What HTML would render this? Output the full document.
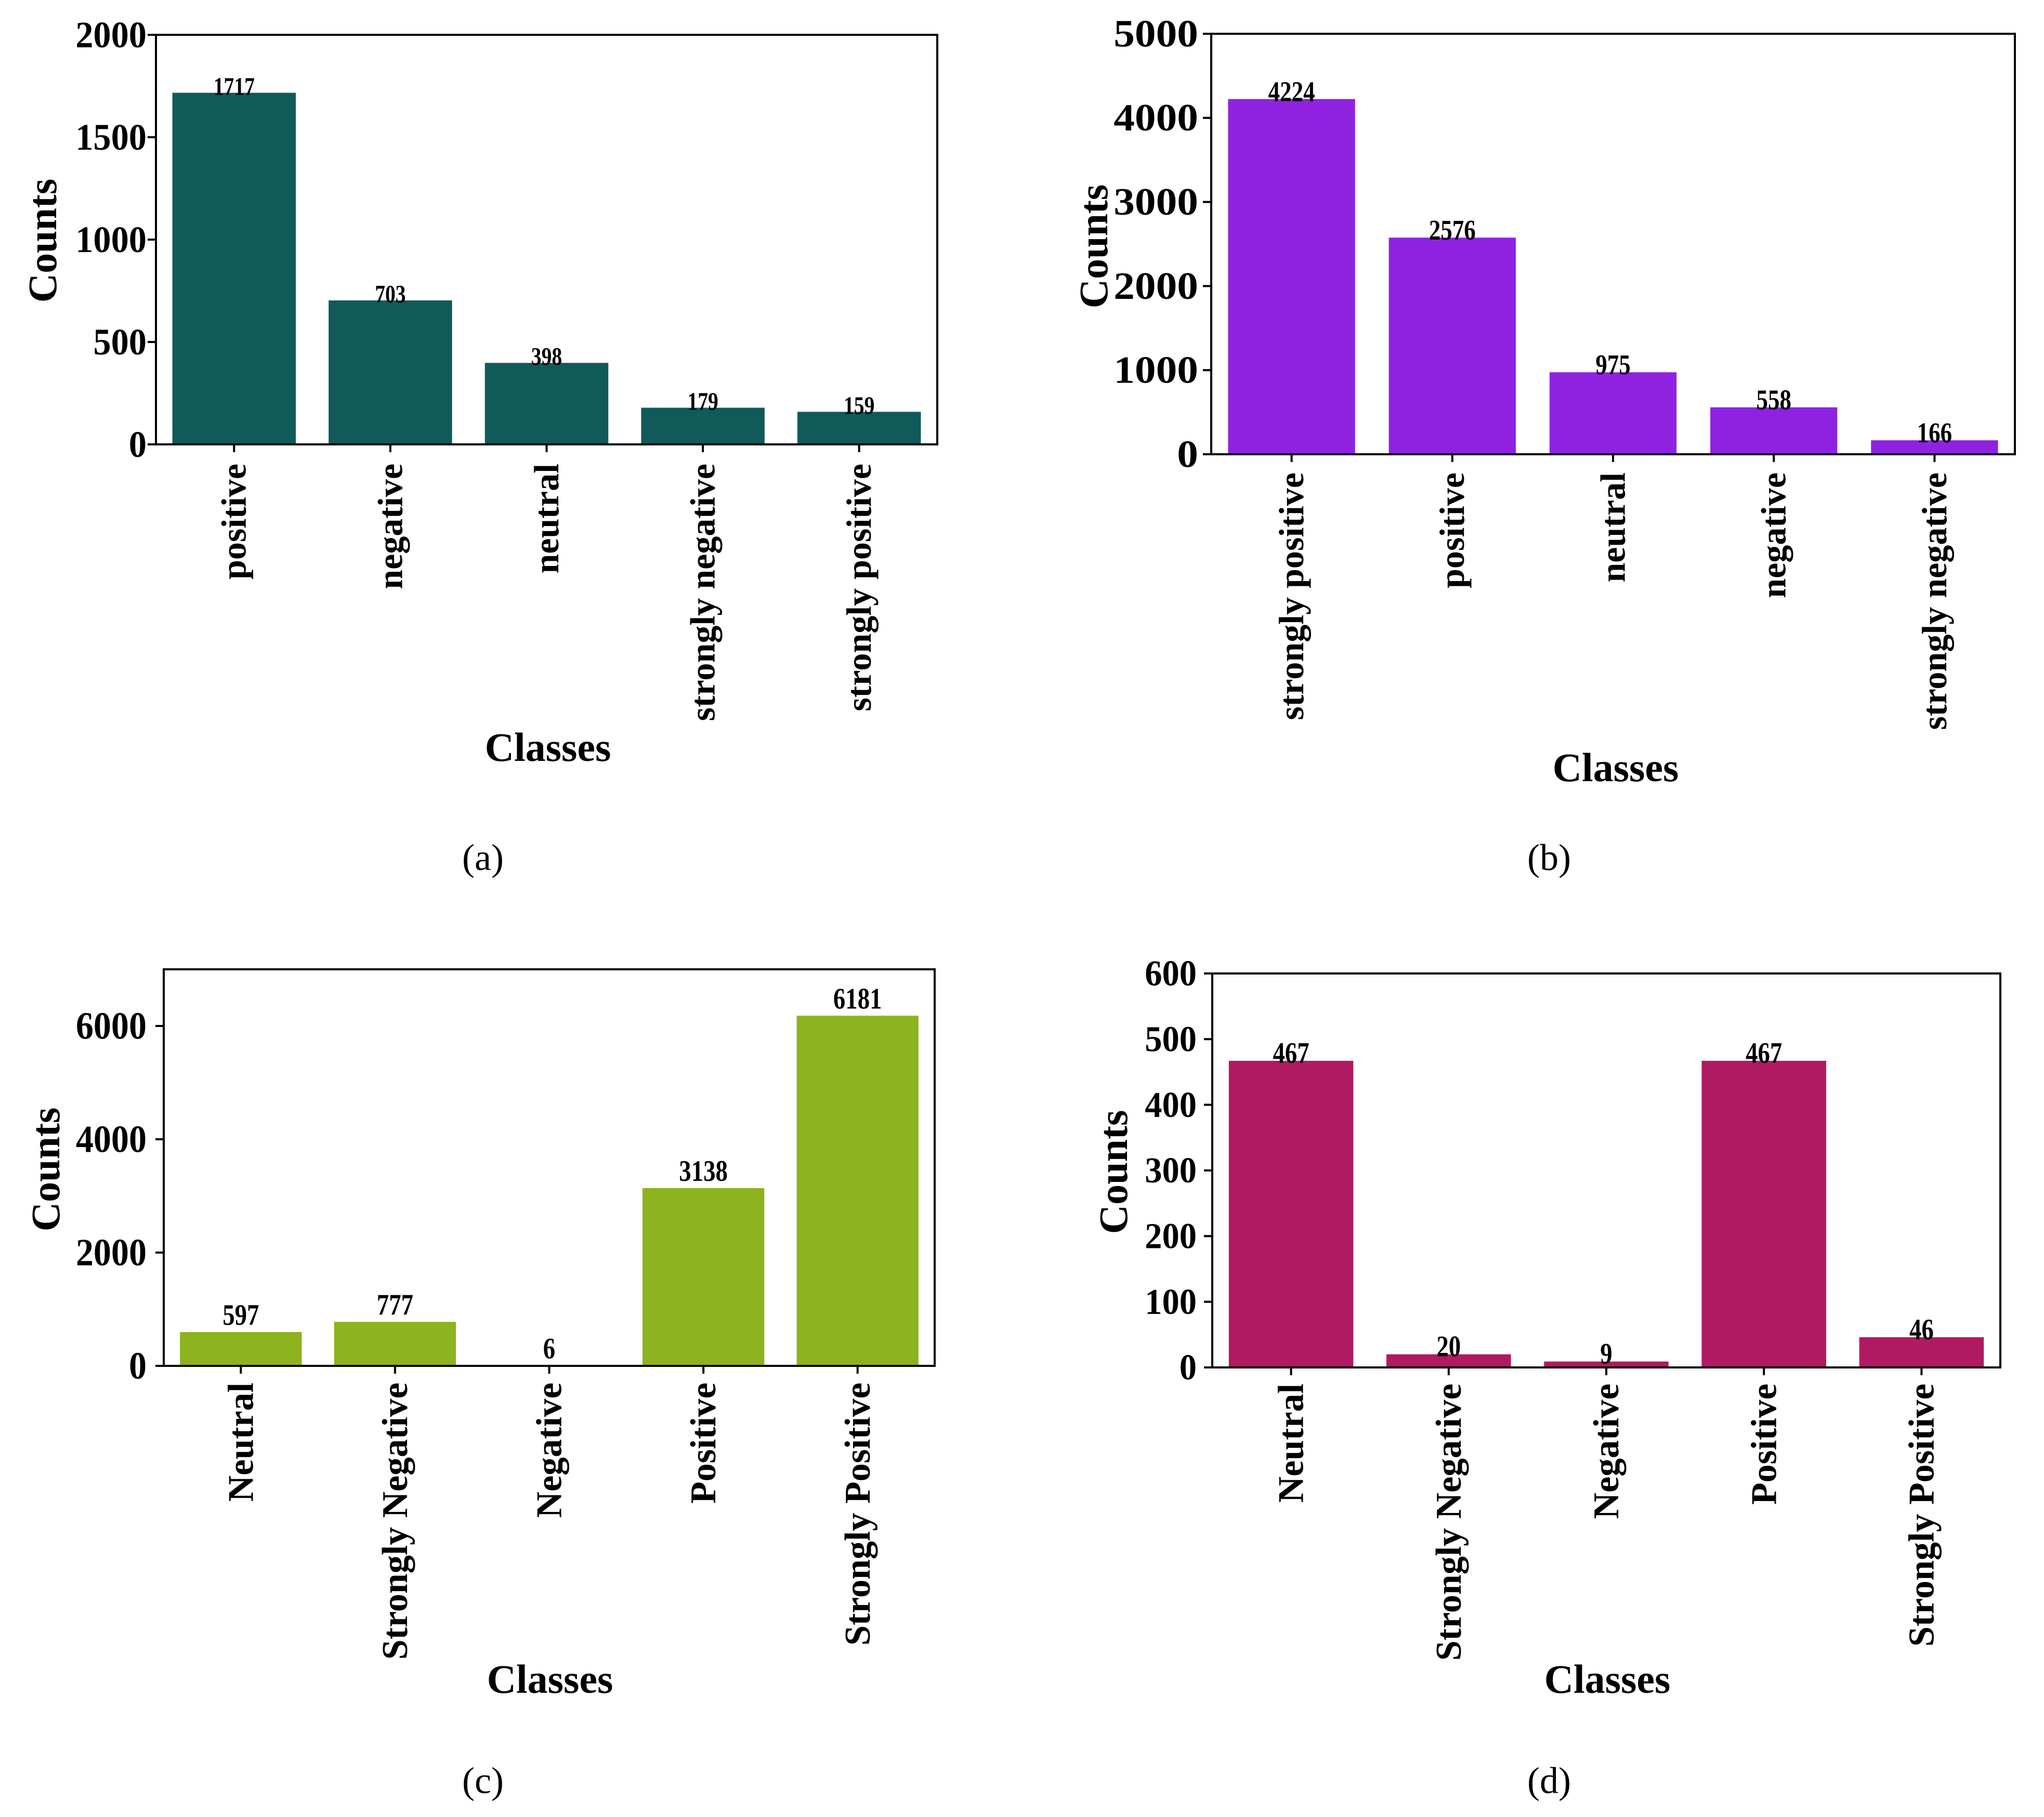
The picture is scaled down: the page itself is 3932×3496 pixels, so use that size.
<!DOCTYPE html>
<html><head><meta charset="utf-8"><style>
html,body{margin:0;padding:0;background:#fff;}
svg{display:block;}
text{font-family:"Liberation Serif","Times New Roman",serif;fill:#000;}
</style></head>
<body>
<svg id="fig" width="3932" height="3496" viewBox="0 0 3932 3496" xmlns="http://www.w3.org/2000/svg"></svg>
<script>
// Panel (a)
const catsA = ["positive","negative","neutral","strongly negative","strongly positive"];
const valsA = [1717,703,398,179,159];
const ticksA = [0,500,1000,1500,2000];
// Panel (b)
const catsB = ["strongly positive","positive","neutral","negative","strongly negative"];
const valsB = [4224,2576,975,558,166];
const ticksB = [0,1000,2000,3000,4000,5000];
// Panel (c)
const catsC = ["Neutral","Strongly Negative","Negative","Positive","Strongly Positive"];
const valsC = [597,777,6,3138,6181];
const ticksC = [0,2000,4000,6000];
// Panel (d)
const catsD = ["Neutral","Strongly Negative","Negative","Positive","Strongly Positive"];
const valsD = [467,20,9,467,46];
const ticksD = [0,100,200,300,400,500,600];

const NS = "http://www.w3.org/2000/svg";
const svg = document.getElementById('fig');
function mk(tag, attrs, parent){
  const e = document.createElementNS(NS, tag);
  for (const k in attrs) e.setAttribute(k, attrs[k]);
  (parent||svg).appendChild(e);
  return e;
}

function panel(cfg){
  const g = mk('g', {});
  
  
  const L=cfg.left, R=cfg.right, T=cfg.top, B=cfg.bottom;
  const n = cfg.cats.length;
  const slot = (R-L)/n;
  const xc = i => L + slot*(i+0.5);
  const y = v => B - (v/cfg.max)*(B-T);
  const bw = slot*0.79;
  cfg.vals.forEach((v,i)=>{
    const r = mk('rect', {x:xc(i)-bw/2, y:y(v), width:bw, height:B-y(v), fill:cfg.color}, g);
    
    
    const t = mk('text', {x:0, y:0, 'text-anchor':'middle', 'font-size':cfg.valFs, 'font-weight':'bold',
      transform:`translate(${xc(i)},${y(v)+cfg.valOff}) scale(0.9,1.1)`}, g);
    t.textContent = v;
    
    
  });
  const fr = mk('rect', {x:L, y:T, width:R-L, height:B-T, fill:'none', stroke:'#000', 'stroke-width':4}, g);
  
  
  cfg.ticks.forEach(tv=>{
    const yy = y(tv);
    mk('line', {x1:L-16, x2:L, y1:yy, y2:yy, stroke:'#000', 'stroke-width':4}, g);
    const t = mk('text', {x:0, y:0, 'text-anchor':'end', 'font-size':cfg.tickFs, 'font-weight':'bold',
      transform:`translate(${cfg.tickRight},${yy+cfg.tickFs*0.33}) scale(${cfg.tickSx},1)`}, g);
    t.textContent = tv;
    
    
  });
  cfg.cats.forEach((c,i)=>{
    const xx = xc(i);
    mk('line', {x1:xx, x2:xx, y1:B, y2:B+15, stroke:'#000', 'stroke-width':4}, g);
    const t = mk('text', {x:0, y:0, 'text-anchor':'end', 'font-size':cfg.catFs, 'font-weight':'bold',
      transform:`translate(${xx+cfg.catFs*0.33},${cfg.catTop}) rotate(-90)`}, g);
    t.textContent = c;
    
    
  });
  const yt = mk('text', {x:0, y:0, 'text-anchor':'middle', 'font-size':78, 'font-weight':'bold',
    transform:`translate(${cfg.countsX+26},${cfg.countsY}) rotate(-90)`}, g);
  yt.textContent = 'Counts';
  
  
  const xt = mk('text', {x:cfg.classesX, y:cfg.classesY+26, 'text-anchor':'middle', 'font-size':78, 'font-weight':'bold'}, g);
  xt.textContent = 'Classes';
  
  
  const cap = mk('text', {x:cfg.capX, y:cfg.capY+24, 'text-anchor':'middle', 'font-size':72}, g);
  cap.textContent = '(' + cfg.id + ')';
  
  
}

panel({id:'a', cats:catsA, vals:valsA, ticks:ticksA, max:2000, color:'#115a5a',
  left:300, right:1803, top:67, bottom:855, valFs:44, valOff:4,
  tickFs:72, tickSx:0.95, tickRight:282, catFs:68, catTop:892,
  countsX:82, countsY:463, classesX:1054, classesY:1438, capX:929, capY:1650});
panel({id:'b', cats:catsB, vals:valsB, ticks:ticksB, max:5000, color:'#8f22e0',
  left:2330, right:3876, top:65, bottom:874, valFs:50, valOff:4,
  tickFs:74, tickSx:1.1, tickRight:2305, catFs:68, catTop:909,
  countsX:2104, countsY:474, classesX:3108, classesY:1477, capX:2980, capY:1650});
panel({id:'c', cats:catsC, vals:valsC, ticks:ticksC, max:7000, color:'#8db31e',
  left:315, right:1798, top:1865, bottom:2628, valFs:52, valOff:-14,
  tickFs:74, tickSx:0.92, tickRight:282, catFs:70, catTop:2660,
  countsX:88, countsY:2250, classesX:1058, classesY:3231, capX:929, capY:3426});
panel({id:'d', cats:catsD, vals:valsD, ticks:ticksD, max:600, color:'#b01a62',
  left:2332, right:3848, top:1873, bottom:2631, valFs:52, valOff:4,
  tickFs:70, tickSx:0.95, tickRight:2302, catFs:70, catTop:2662,
  countsX:2142, countsY:2255, classesX:3092, classesY:3231, capX:2980, capY:3426});
</script>
</body></html>
